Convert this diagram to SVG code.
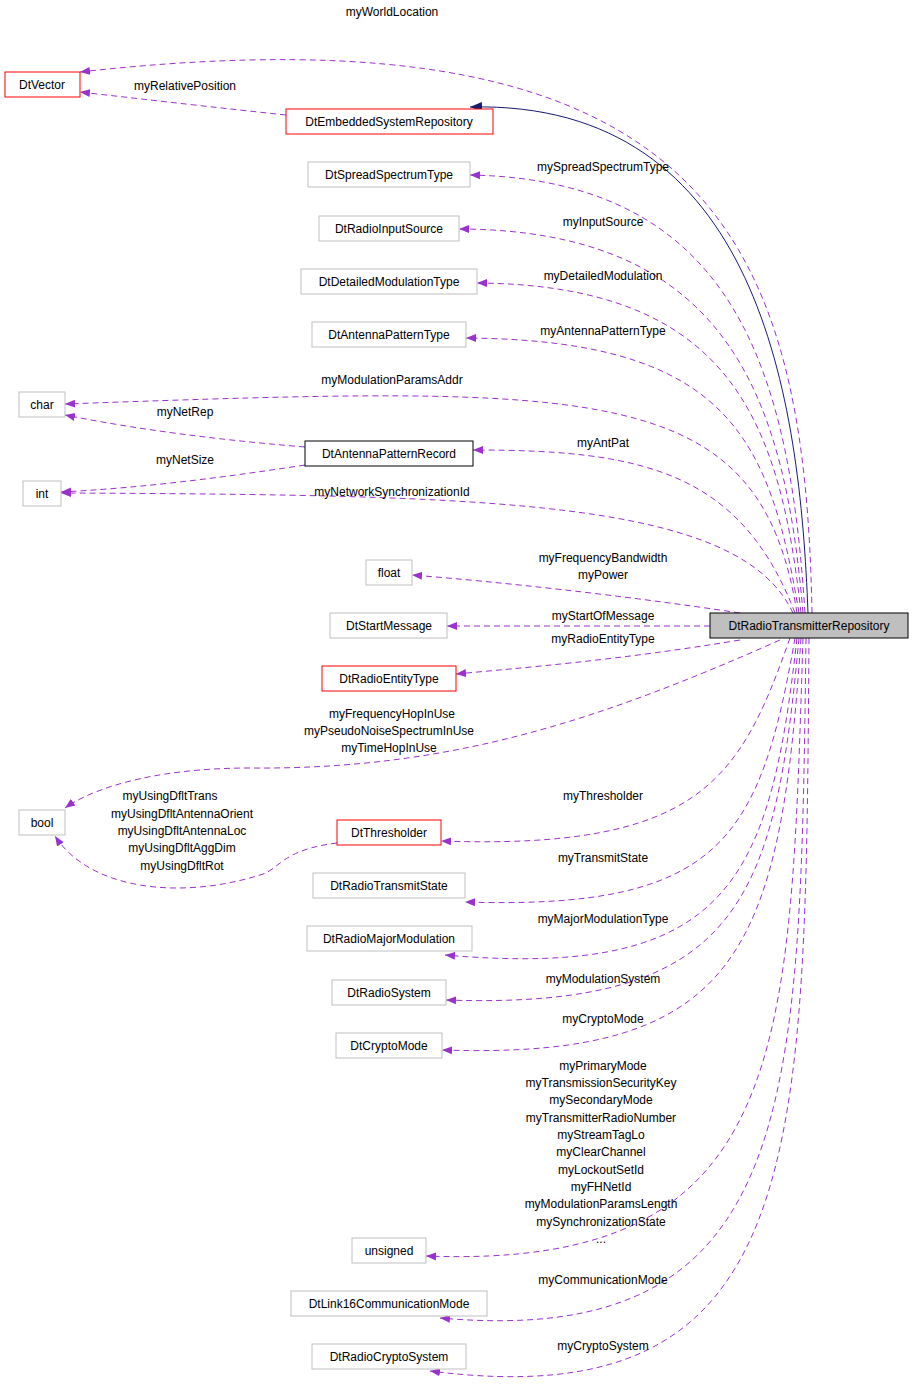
<svg xmlns="http://www.w3.org/2000/svg" width="915" height="1400" viewBox="0 0 915 1400">
<defs>
<marker id="a" viewBox="0 0 10 10" refX="10" refY="5" markerWidth="10" markerHeight="10" markerUnits="userSpaceOnUse" orient="auto"><path d="M0,1 L10,5 L0,9 z" fill="#9a32cd"/></marker>
<marker id="b" viewBox="0 0 10 10" refX="10" refY="5" markerWidth="12" markerHeight="12" markerUnits="userSpaceOnUse" orient="auto"><path d="M0,1 L10,5 L0,9 z" fill="#191970"/></marker>
<style>
text{font-family:"Liberation Sans",Arial,sans-serif;font-size:12px;text-anchor:middle;fill:#000}
.e text{font-size:12px}
.n rect{fill:#fff;stroke:#bfbfbf;stroke-width:1}
.n.r rect{stroke:#ff0000}
.n.k rect{stroke:#000}
.e path{fill:none;stroke:#9a32cd;stroke-width:1;stroke-dasharray:6,4;marker-end:url(#a)}
.e path.i{stroke:#191970;stroke-dasharray:none;marker-end:url(#b)}
</style>
</defs>
<rect width="915" height="1400" fill="#fff"/>
<g class="e" id="edges">
<path class="i" d="M808,613 C800,400 760,100 470,107"/>
<path d="M812,613 C805,250 720,0 80,72"/><text x="392" y="16">myWorldLocation</text>
<path d="M286,115 C220,108 150,100 80,92"/><text x="185" y="90">myRelativePosition</text>
<path d="M805,613 C790,380 740,180 470,175"/><text x="603" y="171">mySpreadSpectrumType</text>
<path d="M803,613 C785,400 730,230 459,229"/><text x="603" y="226">myInputSource</text>
<path d="M801,613 C780,420 730,285 477,283"/><text x="603" y="280">myDetailedModulation</text>
<path d="M799,613 C770,440 730,340 466,338"/><text x="603" y="335">myAntennaPatternType</text>
<path d="M797,613 C760,380 600,385 65,404"/><text x="392" y="384">myModulationParamsAddr</text>
<path d="M305,447 C220,440 140,430 65,415"/><text x="185" y="416">myNetRep</text>
<path d="M795,613 C740,470 640,450 473,450"/><text x="603" y="447">myAntPat</text>
<path d="M305,465 C220,478 140,488 61,492"/><text x="185" y="464">myNetSize</text>
<path d="M793,613 C740,500 500,495 61,493"/><text x="392" y="496">myNetworkSynchronizationId</text>
<path d="M740,613 C620,595 500,582 412,575"/><text x="603" y="562">myFrequencyBandwidth</text><text x="603" y="579">myPower</text>
<path d="M710,626 L447,626"/><text x="603" y="620">myStartOfMessage</text>
<path d="M740,640 C620,660 520,668 456,674"/><text x="603" y="643">myRadioEntityType</text>
<path d="M780,640 C600,720 450,770 250,768 C150,768 90,790 65,808"/><text x="392" y="718">myFrequencyHopInUse</text><text x="389" y="735">myPseudoNoiseSpectrumInUse</text><text x="389" y="752">myTimeHopInUse</text>
<path d="M337,843 C280,850 280,870 260,875 C180,900 90,890 55,836"/><text x="170" y="800">myUsingDfltTrans</text><text x="182" y="818">myUsingDfltAntennaOrient</text><text x="182" y="835">myUsingDfltAntennaLoc</text><text x="182" y="852">myUsingDfltAggDim</text><text x="182" y="870">myUsingDfltRot</text>
<path d="M790,638 C740,780 700,850 441,841"/><text x="603" y="800">myThresholder</text>
<path d="M795,638 C760,840 720,910 465,902"/><text x="603" y="862">myTransmitState</text>
<path d="M797,638 C770,880 730,980 445,955"/><text x="603" y="923">myMajorModulationType</text>
<path d="M799,638 C775,900 740,1010 446,1000"/><text x="603" y="983">myModulationSystem</text>
<path d="M801,638 C780,950 740,1060 442,1050"/><text x="603" y="1023">myCryptoMode</text>
<path d="M803,638 C790,1050 790,1270 426,1256"/><text x="603" y="1070">myPrimaryMode</text><text x="601" y="1087">myTransmissionSecurityKey</text><text x="601" y="1104">mySecondaryMode</text><text x="601" y="1122">myTransmitterRadioNumber</text><text x="601" y="1139">myStreamTagLo</text><text x="601" y="1156">myClearChannel</text><text x="601" y="1174">myLockoutSetId</text><text x="601" y="1191">myFHNetId</text><text x="601" y="1208">myModulationParamsLength</text><text x="601" y="1226">mySynchronizationState</text><text x="601" y="1243">...</text>
<path d="M806,638 C800,1100 800,1350 440,1318"/><text x="603" y="1284">myCommunicationMode</text>
<path d="M809,638 C805,1150 810,1420 430,1371"/><text x="603" y="1350">myCryptoSystem</text>
</g>
<g class="n" id="DtRadioTransmitterRepository"><rect x="710" y="613" width="198" height="25" style="fill:#bfbfbf;stroke:#000"/><text x="809" y="630">DtRadioTransmitterRepository</text></g>
<g class="n r" id="DtVector"><rect x="5" y="72" width="75" height="25"/><text x="42" y="89">DtVector</text></g>
<g class="n r" id="DtEmbeddedSystemRepository"><rect x="286" y="109" width="207" height="25"/><text x="389" y="126">DtEmbeddedSystemRepository</text></g>
<g class="n" id="DtSpreadSpectrumType"><rect x="308" y="162" width="162" height="25"/><text x="389" y="179">DtSpreadSpectrumType</text></g>
<g class="n" id="DtRadioInputSource"><rect x="319" y="216" width="140" height="25"/><text x="389" y="233">DtRadioInputSource</text></g>
<g class="n" id="DtDetailedModulationType"><rect x="301" y="269" width="176" height="25"/><text x="389" y="286">DtDetailedModulationType</text></g>
<g class="n" id="DtAntennaPatternType"><rect x="312" y="322" width="154" height="25"/><text x="389" y="339">DtAntennaPatternType</text></g>
<g class="n" id="char"><rect x="19" y="392" width="46" height="25"/><text x="42" y="409">char</text></g>
<g class="n k" id="DtAntennaPatternRecord"><rect x="305" y="441" width="168" height="25"/><text x="389" y="458">DtAntennaPatternRecord</text></g>
<g class="n" id="int"><rect x="23" y="481" width="38" height="25"/><text x="42" y="498">int</text></g>
<g class="n" id="float"><rect x="366" y="560" width="46" height="25"/><text x="389" y="577">float</text></g>
<g class="n" id="DtStartMessage"><rect x="330" y="613" width="117" height="25"/><text x="389" y="630">DtStartMessage</text></g>
<g class="n r" id="DtRadioEntityType"><rect x="322" y="666" width="134" height="25"/><text x="389" y="683">DtRadioEntityType</text></g>
<g class="n" id="bool"><rect x="19" y="810" width="46" height="25"/><text x="42" y="827">bool</text></g>
<g class="n r" id="DtThresholder"><rect x="337" y="820" width="104" height="25"/><text x="389" y="837">DtThresholder</text></g>
<g class="n" id="DtRadioTransmitState"><rect x="313" y="873" width="152" height="25"/><text x="389" y="890">DtRadioTransmitState</text></g>
<g class="n" id="DtRadioMajorModulation"><rect x="307" y="926" width="165" height="25"/><text x="389" y="943">DtRadioMajorModulation</text></g>
<g class="n" id="DtRadioSystem"><rect x="332" y="980" width="114" height="25"/><text x="389" y="997">DtRadioSystem</text></g>
<g class="n" id="DtCryptoMode"><rect x="336" y="1033" width="106" height="25"/><text x="389" y="1050">DtCryptoMode</text></g>
<g class="n" id="unsigned"><rect x="352" y="1238" width="74" height="25"/><text x="389" y="1255">unsigned</text></g>
<g class="n" id="DtLink16CommunicationMode"><rect x="291" y="1291" width="196" height="25"/><text x="389" y="1308">DtLink16CommunicationMode</text></g>
<g class="n" id="DtRadioCryptoSystem"><rect x="312" y="1344" width="154" height="25"/><text x="389" y="1361">DtRadioCryptoSystem</text></g>
</svg>
